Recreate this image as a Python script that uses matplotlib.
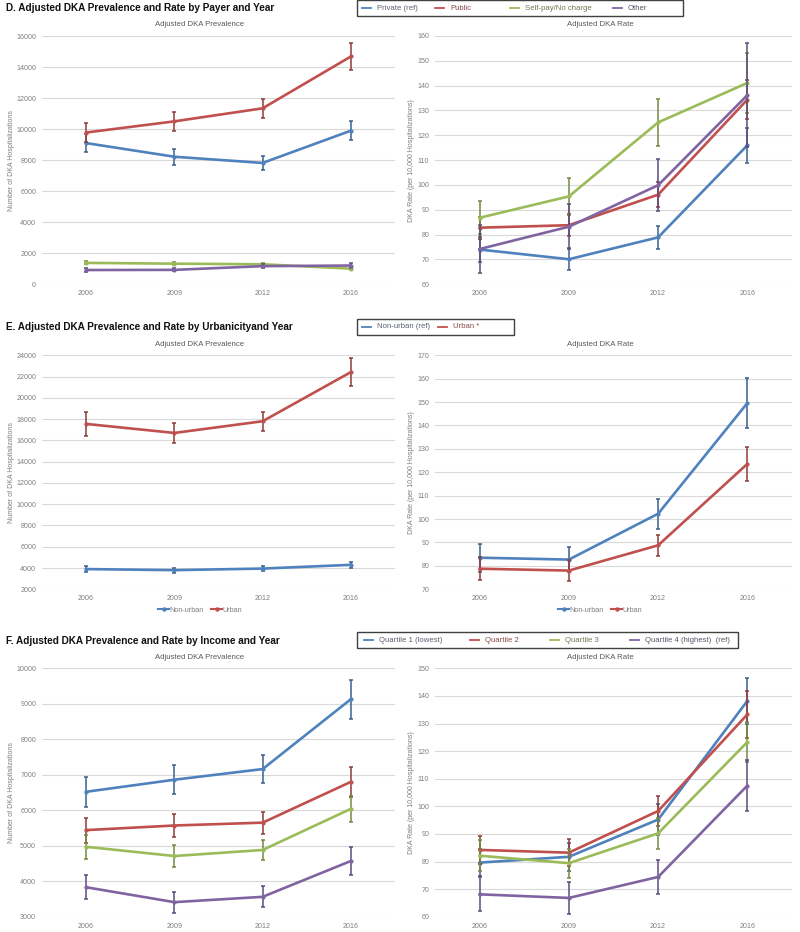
import matplotlib.pyplot as plt
from matplotlib.lines import Line2D
import numpy as np

plt.rcParams['font.family'] = ['Liberation Sans', 'DejaVu Sans']

years = ["2006", "2009", "2012", "2016"]

# D. payer
payer_names = ["Private (ref)", "Public", "Self-pay/No charge", "Other"]
prev_private = [9100, 8220, 7820, 9900]
prev_private_err = [600, 520, 450, 620]
prev_public = [9780, 10500, 11340, 14680]
prev_public_err = [610, 600, 610, 880]
prev_selfpay = [1380, 1330, 1290, 1010]
prev_selfpay_err = [90, 80, 80, 90]
prev_other = [920, 930, 1170, 1210]
prev_other_err = [100, 100, 120, 190]

rate_private = [74.0, 70.1, 78.9, 116.0]
rate_private_err = [5, 4.5, 4.5, 7]
rate_public = [82.8, 83.8, 96.1, 134.4]
rate_public_err = [4.5, 4.5, 5, 8]
rate_selfpay = [86.8, 95.4, 125.2, 141.1]
rate_selfpay_err = [6.7, 7.6, 9.4, 12]
rate_other = [74.2, 83.2, 99.9, 136.2]
rate_other_err = [9.6, 9, 10.4, 21]

# E. urbanicity
urban_names = ["Non-urban (ref)", "Urban *"]
urban_short = ["Non-urban", "Urban"]
prev_nonurban = [3900, 3800, 3950, 4300]
prev_nonurban_err = [250, 230, 240, 300]
prev_urban = [17550, 16700, 17800, 22420]
prev_urban_err = [1100, 900, 900, 1280]
rate_nonurban = [83.5, 82.7, 102.3, 149.6]
rate_nonurban_err = [6, 5.4, 6.5, 10.7]
rate_urban = [78.8, 78.0, 88.8, 123.6]
rate_urban_err = [5, 4.4, 4.5, 7.2]

# F. income
income_names = ["Quartile 1 (lowest)", "Quartile 2", "Quartile 3", "Quartile 4 (highest)  (ref)"]
prev_q1 = [6520, 6860, 7160, 9130]
prev_q1_err = [420, 410, 400, 550]
prev_q2 = [5440, 5570, 5650, 6800]
prev_q2_err = [350, 330, 310, 420]
prev_q3 = [4970, 4710, 4880, 6040]
prev_q3_err = [340, 300, 290, 360]
prev_q4 = [3830, 3410, 3560, 4570]
prev_q4_err = [340, 300, 300, 400]
rate_q1 = [79.6, 81.7, 95.2, 138.2]
rate_q1_err = [5, 5, 5.5, 8.4]
rate_q2 = [84.2, 83.2, 98.3, 133.3]
rate_q2_err = [5.2, 4.8, 5.5, 8.6]
rate_q3 = [82.1, 79.4, 90.2, 123.3]
rate_q3_err = [5.7, 5.3, 5.5, 7.3]
rate_q4 = [68.1, 66.8, 74.4, 107.5]
rate_q4_err = [6.2, 5.7, 6.1, 9.2]

colors = ["#4F81BD", "#C0504D", "#9BBB59", "#8064A2"]
err_colors = ["#3A5F8C", "#8E3A38", "#728A40", "#5E4A7A"]
text_colors = ["#5A6270", "#8A4A48", "#6E7A50", "#5A5468"]
grid_c = "#D9D9D9"
tick_c = "#7F7F7F"

W, H = 800, 932
fig = plt.figure(figsize=(W / 100, H / 100), dpi=100)


def ax_at(x0, y0, x1, y1):
    return fig.add_axes([x0 / W, 1 - y1 / H, (x1 - x0) / W, (y1 - y0) / H])


def draw_panel(ax, series, errs, yticks):
    x = np.arange(len(years))
    for i, (s, e) in enumerate(zip(series, errs)):
        ax.errorbar(x, s, yerr=e, fmt="none", ecolor=err_colors[i], elinewidth=1.1,
                    capsize=1.4, capthick=1.1, zorder=2 + i)
        ax.plot(x, s, color=colors[i], lw=1.9, marker="o", ms=2.0, zorder=2 + i)
    ax.set_xlim(-0.5, 3.5)
    ax.set_ylim(yticks[0], yticks[-1])
    ax.set_yticks(yticks)
    ax.set_xticks(x)
    ax.set_xticklabels(years)
    ax.grid(axis="y", color=grid_c, lw=0.8)
    ax.set_axisbelow(True)
    for sp in ax.spines.values():
        sp.set_visible(False)
    ax.tick_params(length=0, labelsize=5.1, labelcolor=tick_c, pad=4.2)


def top_legend(x0, y0, x1, y1, names, xs):
    # frame
    fig.patches.append(plt.Rectangle((x0 / W, 1 - y1 / H), (x1 - x0) / W, (y1 - y0) / H,
                                     transform=fig.transFigure, fill=False,
                                     edgecolor="#404040", lw=1.0))
    yc = 1 - (y0 + y1) / 2 / H
    for i, (n, xx) in enumerate(zip(names, xs)):
        fig.add_artist(Line2D([xx / W, (xx + 9) / W], [yc, yc], color=colors[i], lw=1.3,
                              transform=fig.transFigure))
        fig.text((xx + 15) / W, yc, n, fontsize=5.6, color=text_colors[i], va="center")


def row(y0, y1, title, ty, left_series, left_errs, left_ticks, right_series, right_errs, right_ticks):
    fig.text(6 / W, 1 - ty / H, title, fontsize=7.2, fontweight="bold", va="center", color="#111111")
    axl = ax_at(42, y0, 395, y1)
    axr = ax_at(435, y0, 792, y1)
    draw_panel(axl, left_series, left_errs, left_ticks)
    draw_panel(axr, right_series, right_errs, right_ticks)
    fig.text(200 / W, 1 - (y0 - 11) / H, "Adjusted DKA Prevalence", fontsize=5.6, color="#595959",
             ha="center", va="center")
    fig.text(600 / W, 1 - (y0 - 11) / H, "Adjusted DKA Rate", fontsize=5.6, color="#595959",
             ha="center", va="center")
    fig.text(12 / W, 1 - (y0 + y1) / 2 / H, "Number of DKA Hospitalizations", fontsize=5.0,
             color=tick_c, rotation=90, ha="center", va="center")
    fig.text(411 / W, 1 - (y0 + y1) / 2 / H, "DKA Rate (per 10,000 Hospitalizations)", fontsize=5.0,
             color=tick_c, rotation=90, ha="center", va="center")
    return axl, axr


row(36, 284.3, "D. Adjusted DKA Prevalence and Rate by Payer and Year", 8,
    [prev_private, prev_public, prev_selfpay, prev_other],
    [prev_private_err, prev_public_err, prev_selfpay_err, prev_other_err],
    np.arange(0, 16001, 2000),
    [rate_private, rate_public, rate_selfpay, rate_other],
    [rate_private_err, rate_public_err, rate_selfpay_err, rate_other_err],
    np.arange(60, 161, 10))
top_legend(357, 0, 683, 16, payer_names, [362, 435, 510, 613])

axl, axr = row(355.3, 589.3, "E. Adjusted DKA Prevalence and Rate by Urbanicityand Year", 327,
               [prev_nonurban, prev_urban], [prev_nonurban_err, prev_urban_err],
               np.arange(2000, 24001, 2000),
               [rate_nonurban, rate_urban], [rate_nonurban_err, rate_urban_err],
               np.arange(70, 171, 10))
top_legend(357, 319, 514, 335, urban_names, [362, 438])
for a, cx in [(axl, 200), (axr, 600)]:
    handles = [Line2D([], [], color=colors[i], lw=1.5, marker="o", ms=2.2) for i in range(2)]
    fig.legend(handles, urban_short, loc="center", bbox_to_anchor=(cx / W, 1 - 610 / H),
               ncol=2, frameon=False, fontsize=5.2, labelcolor=tick_c, handlelength=1.6,
               handletextpad=0.0, columnspacing=1.0)

row(668.3, 916.7, "F. Adjusted DKA Prevalence and Rate by Income and Year", 641,
    [prev_q1, prev_q2, prev_q3, prev_q4],
    [prev_q1_err, prev_q2_err, prev_q3_err, prev_q4_err],
    np.arange(3000, 10001, 1000),
    [rate_q1, rate_q2, rate_q3, rate_q4],
    [rate_q1_err, rate_q2_err, rate_q3_err, rate_q4_err],
    np.arange(60, 151, 10))
top_legend(357, 632, 738, 648, income_names, [364, 470, 550, 630])

fig.savefig("out.png", dpi=100, facecolor="white")
